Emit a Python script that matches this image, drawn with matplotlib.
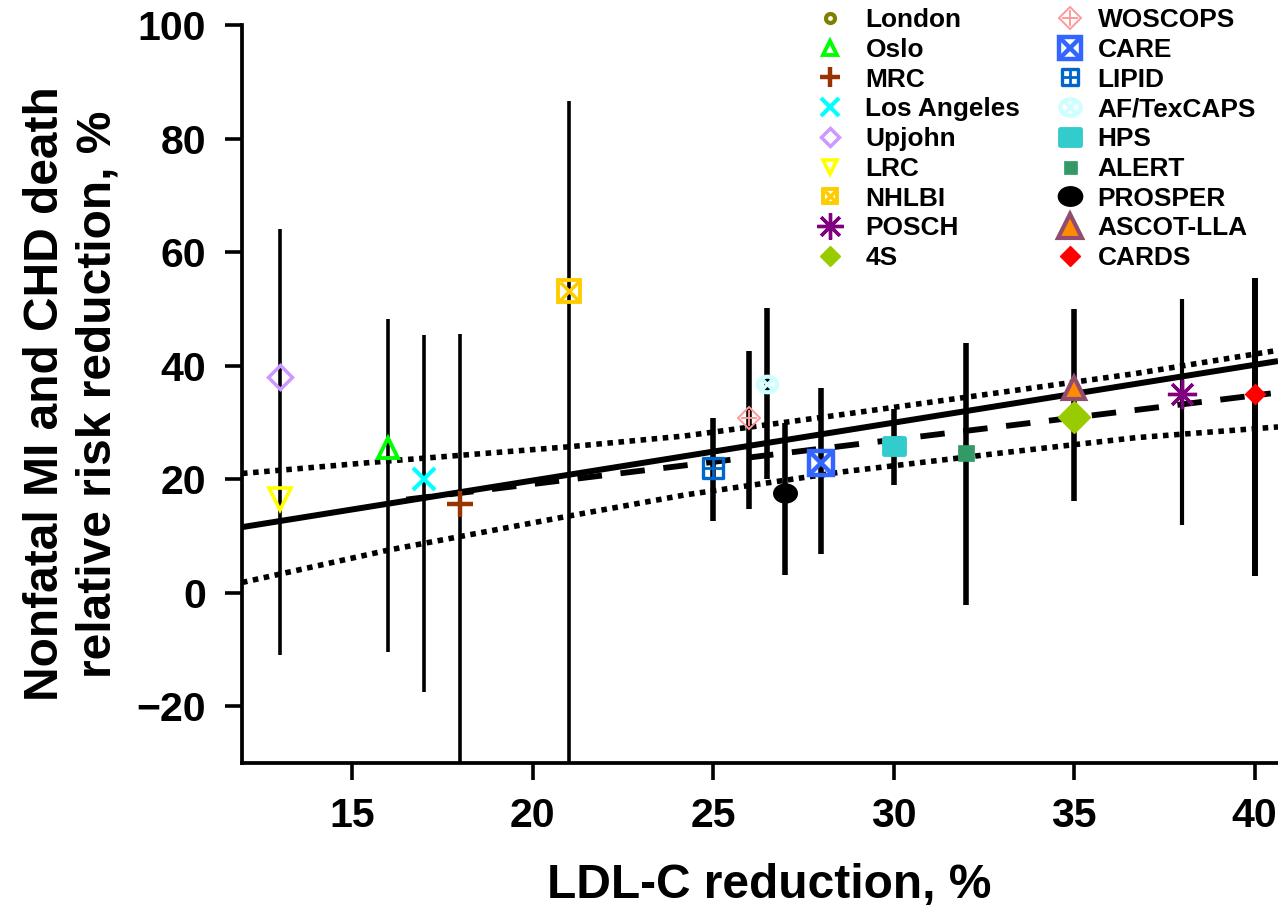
import numpy as np
import matplotlib
matplotlib.use("Agg")
import matplotlib.pyplot as plt
from matplotlib.lines import Line2D
from matplotlib.markers import MarkerStyle
from matplotlib.path import Path
from matplotlib.transforms import Affine2D

plt.rcParams['font.family'] = ['Liberation Sans', 'DejaVu Sans']
plt.rcParams['font.weight'] = 'bold'

# ---- trial data -------------------------------------------------------------
studies = ["London", "Oslo", "MRC", "Los Angeles", "Upjohn", "LRC", "NHLBI",
           "POSCH", "4S", "WOSCOPS", "CARE", "LIPID", "AF/TexCAPS", "HPS",
           "ALERT", "PROSPER", "ASCOT-LLA", "CARDS"]
ldl_reduction = [np.nan, 16, 18, 17, 13, 13, 21, 38, 35, 26, 28, 25, 26.5, 30,
                 32, 27, 35, 40]
risk_reduction = [np.nan, 25.4, 15.6, 20.1, 38.0, 16.5, 53.2, 35.0, 30.9, 30.8,
                  22.8, 22.0, 36.8, 25.9, 24.6, 17.5, 36.0, 35.0]
ci_lower = [np.nan, -10.4, -40.0, -17.5, np.nan, -11.0, -40.0, 12.0, np.nan,
            14.7, 6.9, 12.7, 20.1, 19.0, -2.1, 3.2, 16.1, 3.0]
ci_upper = [np.nan, 48.2, 45.6, 45.4, np.nan, 64.1, 86.7, 51.7, np.nan, 42.6,
            36.1, 30.7, 50.2, 32.3, 44.0, 29.9, 49.9, 55.5]

# regression through all trials (solid)
all_fit_x = [11.95, 40.65]
all_fit_y = [11.55, 40.8]
# regression through statin trials (dashed) and its 95% band (dotted)
statin_fit_x = [16.5, 40.45]
statin_fit_y = [16.4, 35.1]
band_x = [11.95, 16.0, 21.0, 24.2, 28.6, 33.1, 36.7, 40.65]
band_upper = [21.0, 23.2, 25.7, 27.6, 31.4, 35.4, 38.6, 42.7]
band_lower = [1.8, 7.5, 13.5, 17.2, 21.3, 24.7, 27.3, 29.2]

x_ticks = [15, 20, 25, 30, 35, 40]
y_ticks = [-20, 0, 20, 40, 60, 80, 100]

# ---- marker styles ----------------------------------------------------------
ellipse = Path.unit_circle().transformed(Affine2D().scale(1.25, 1.0))
wide_rect = Path.unit_rectangle().transformed(
    Affine2D().translate(-0.5, -0.5).scale(1.3, 1.0))
round_square = MarkerStyle('s', joinstyle='round')
round_rect = MarkerStyle(wide_rect, joinstyle='round')

# each study: (layers, legend scale); layer = (marker, size, face, edge, edgewidth)
styles = {
    "London": ([('o', 6.5, 'none', '#808000', 3.0)], 1.0),
    "Oslo": ([('^', 15, 'none', '#00ff00', 2.8)], 0.7),
    "MRC": ([('+', 19, 'none', '#993300', 3.2)], 0.78),
    "Los Angeles": ([('x', 16, 'none', '#00ffff', 3.0)], 0.85),
    "Upjohn": ([('D', 12, 'none', '#cc99ff', 2.5)], 0.78),
    "LRC": ([('v', 16, 'none', '#ffff00', 2.6)], 0.6),
    "NHLBI": ([('s', 16, 'none', '#ffcc00', 2.8),
               ('x', 13, 'none', '#ffcc00', 2.5)], 0.6),
    "POSCH": ([((8, 2, 0), 21, 'none', '#800080', 2.4)], 0.9),
    "4S": ([('D', 16, '#99cc00', '#99cc00', 1.0)], 0.62),
    "WOSCOPS": ([('D', 11, 'none', '#ff9999', 1.4),
                 ('+', 11, 'none', '#ff9999', 1.4)], 1.05),
    "CARE": ([('s', 17, 'none', '#3366ff', 3.2),
              ('x', 15, 'none', '#3366ff', 3.2)], 0.93),
    "LIPID": ([(round_square, 14, 'none', '#0066cc', 2.4),
               ('+', 13, 'none', '#0066cc', 2.0)], 0.78),
    "AF/TexCAPS": ([(ellipse, 14, 'none', '#ccffff', 3.0),
                    ('x', 9, 'none', '#ccffff', 2.5)], 1.05),
    "HPS": ([(round_rect, 14.5, '#33cccc', '#33cccc', 3.5)], 1.0),
    "ALERT": ([('s', 12, '#339966', '#339966', 0.5)], 0.78),
    "PROSPER": ([(ellipse, 17, 'black', 'black', 1.0)], 1.03),
    "ASCOT-LLA": ([('^', 16.5, '#ff8c00', '#924c70', 3.0)], 1.08),
    "CARDS": ([('D', 10, '#ff0000', '#ff0000', 1.0)], 1.0),
}
bar_width = {"Oslo": 2.6, "MRC": 2.6, "Los Angeles": 2.6, "LRC": 2.6,
             "NHLBI": 2.6, "POSCH": 3.0, "CARDS": 4.3}

# ---- figure -----------------------------------------------------------------
W, H = 1278, 905
fig = plt.figure(figsize=(W / 100, H / 100), dpi=100)
ax = fig.add_axes([242 / W, (H - 763) / H, (W - 242) / W, (763 - 25) / H])
ax.set_xlim(11.95, 40.65)
ax.set_ylim(-30, 100)

# regression lines and confidence band
ax.plot(band_x, band_upper, color='black', lw=4.0, ls=(0, (1, 1)),
        dash_capstyle='butt', zorder=2)
ax.plot(band_x, band_lower, color='black', lw=4.0, ls=(0, (1, 1)),
        dash_capstyle='butt', zorder=2)
ax.plot(statin_fit_x, statin_fit_y, color='black', lw=4.2, ls=(0, (4.2, 3.2)),
        dash_capstyle='butt', zorder=2)
ax.plot(all_fit_x, all_fit_y, color='black', lw=4.3, solid_capstyle='butt',
        zorder=2.5)

# confidence intervals
for name, x, lo, hi in zip(studies, ldl_reduction, ci_lower, ci_upper):
    if np.isfinite(lo) and np.isfinite(hi):
        ax.vlines(x, lo, hi, colors='black', linewidth=bar_width.get(name, 4.0),
                  zorder=3)

# trial markers
handles = []
for i, (name, x, y) in enumerate(zip(studies, ldl_reduction, risk_reduction)):
    layers, lscale = styles[name]
    parts = []
    for k, (mk, size, face, edge, ew) in enumerate(layers):
        if np.isfinite(x):
            ax.plot([x], [y], ls='none', marker=mk, ms=size, mfc=face, mec=edge,
                    mew=ew, zorder=6 + k + i * 0.01, clip_on=False)
        parts.append(Line2D([], [], ls='none', marker=mk, ms=size * lscale,
                            mfc=face, mec=edge, mew=ew))
    handles.append(tuple(parts) if len(parts) > 1 else parts[0])

# axes styling
for side in ('top', 'right'):
    ax.spines[side].set_visible(False)
for side in ('left', 'bottom'):
    ax.spines[side].set_linewidth(2.7)
ax.set_xticks(x_ticks)
ax.set_yticks(y_ticks)
ax.tick_params(axis='both', direction='out', length=12, width=2.6,
               labelsize=29.5)
ax.tick_params(axis='x', pad=12.5)
ax.tick_params(axis='y', pad=14)

fig.text(769 / W, 1 - 897 / H, "LDL-C reduction, %", ha='center',
         va='baseline', fontsize=34.5, fontweight='bold')
fig.text(72 / W, 1 - 394 / H,
         "Nonfatal MI and CHD death\nrelative risk reduction, %",
         rotation=90, ha='center', va='center', multialignment='center',
         fontsize=34.5, fontweight='bold')

# two-column legend
leg_kw = dict(frameon=False, fontsize=18.9, handlelength=1.5, labelspacing=0.22,
              borderpad=0, borderaxespad=0, loc='upper left',
              bbox_transform=fig.transFigure)
leg1 = ax.legend(handles[:9], studies[:9], handletextpad=0.61,
                 bbox_to_anchor=(810 / W, 1 - 8 / H), **leg_kw)
ax.add_artist(leg1)
ax.legend(handles[9:], studies[9:], handletextpad=0.31,
          bbox_to_anchor=(1050 / W, 1 - 8 / H), **leg_kw)

fig.savefig("out.png", dpi=100)
